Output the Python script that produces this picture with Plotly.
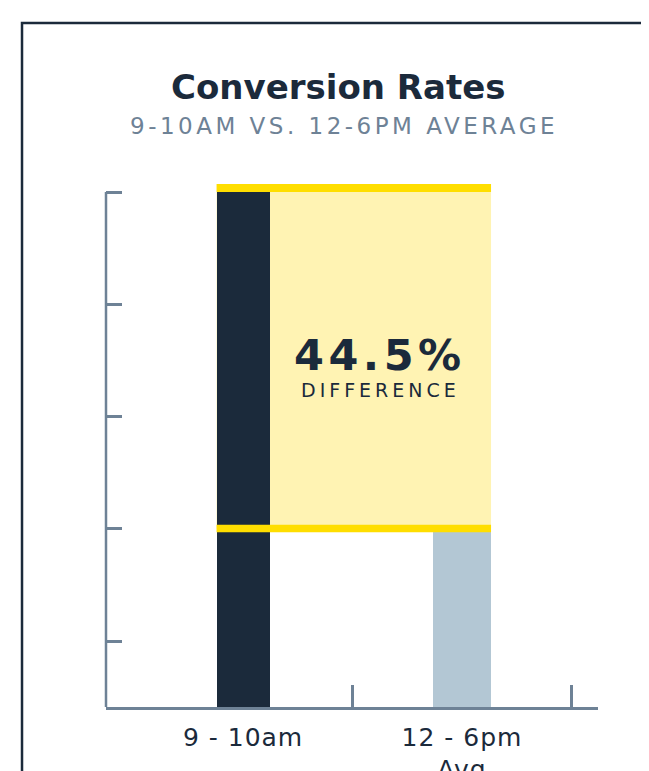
import plotly.graph_objects as go

# ---- data ----
categories = ["9 - 10am", "12 - 6pm<br>Avg"]
rates = [3.18, 2.20]          # conversion rate (relative scale, unlabelled axis)
bar_colors = ["#1b2a3b", "#b3c7d4"]
bar_widths = [0.242, 0.265]
diff_label = "44.5%"
diff_caption = "DIFFERENCE"
title_text = "Conversion Rates"
subtitle_text = "9-10AM VS. 12-6PM AVERAGE"

DARK = "#1b2a3b"
AXIS = "#6e8296"
YELLOW = "#ffde00"
PALE = "#fff3b3"
FONT = "DejaVu Sans"


def spaced(t, px):
    return "<br>".join(f'<span style="letter-spacing:{px}px">{p}</span>' for p in t.split("<br>"))


xpos = list(range(len(categories)))
hi, lo = max(rates), min(rates)
step = (hi - lo) / 3
y_min = lo - step * 1.588
y_max = hi + step * 0.072

fig = go.Figure()
fig.add_trace(go.Bar(
    x=xpos, y=rates, width=bar_widths,
    marker=dict(color=bar_colors, line=dict(width=0)),
    hoverinfo="skip", showlegend=False,
))

x_left = xpos[0] - bar_widths[0] / 2
x_right = xpos[1] + bar_widths[1] / 2
x_mid = (xpos[0] + bar_widths[0] / 2 + x_right) / 2

shapes = [
    dict(type="rect", xref="x", yref="y", x0=x_left, x1=x_right, y0=lo, y1=hi,
         fillcolor=PALE, line=dict(width=0), layer="below"),
    dict(type="rect", xref="x", yref="y", x0=x_left, x1=x_right, y0=hi, y1=y_max,
         fillcolor=YELLOW, line=dict(width=0), layer="above"),
    dict(type="rect", xref="x", yref="y", x0=x_left, x1=x_right, y0=lo - step * 0.03, y1=lo + step * 0.036,
         fillcolor=YELLOW, line=dict(width=0), layer="above"),
    # y-axis spine, ending at the top tick
    dict(type="line", xref="x domain", yref="y", x0=0, x1=0, y0=y_min, y1=hi,
         line=dict(color=AXIS, width=2.5), layer="above"),
    # card frame
    dict(type="rect", xref="paper", yref="paper", x0=-0.1707, x1=1.3, y0=-0.3, y1=1.3078,
         fillcolor="rgba(0,0,0,0)", line=dict(color=DARK, width=2.5), layer="below"),
]

annotations = [
    dict(text=f"<b>{title_text}</b>", xref="paper", yref="paper", x=0.4715, y=1.0,
         xanchor="center", yanchor="middle",
         yshift=97, showarrow=False, font=dict(family=FONT, size=34, color=DARK)),
    dict(text=spaced(subtitle_text, 3.5), xref="paper", yref="paper", x=0.484, y=1.0,
         xanchor="center", yanchor="middle",
         yshift=58, showarrow=False, font=dict(family=FONT, size=23, color=AXIS)),
    dict(text=spaced(diff_label, 4.5), xref="x", yref="y", x=x_mid,
         y=(hi + lo) / 2, yshift=5, showarrow=False, xanchor="center", yanchor="middle",
         font=dict(family=FONT, size=43, color=DARK, weight=600)),
    dict(text=spaced(diff_caption, 4), xref="x", yref="y", x=x_mid,
         y=(hi + lo) / 2, yshift=-30, showarrow=False, xanchor="center", yanchor="middle",
         font=dict(family=FONT, size=19, color=DARK)),
]

fig.update_layout(
    width=641, height=763,
    margin=dict(l=98, r=51, t=176, b=64, autoexpand=False),
    paper_bgcolor="white", plot_bgcolor="white",
    shapes=shapes, annotations=annotations,
    bargap=0,
    xaxis=dict(
        range=[-0.626, 1.621], showgrid=False, zeroline=False, automargin=False,
        showline=True, linecolor=AXIS, linewidth=2.5,
        tickmode="array", tickvals=xpos, ticktext=[spaced(c, 1) for c in categories],
        ticks="outside", ticklen=0, ticklabelstandoff=6,
        tickfont=dict(family=FONT, size=25, color=DARK),
        minor=dict(tickmode="array", tickvals=[0.5, 1.5], ticks="inside",
                   ticklen=22, tickwidth=2.5, tickcolor=AXIS, showgrid=False),
        fixedrange=True,
    ),
    yaxis=dict(
        range=[y_min, y_max],
        showgrid=False, zeroline=False, automargin=False,
        showline=False,
        tickmode="array", tickvals=[lo + step * k for k in range(-1, 4)],
        ticks="inside", ticklen=16, tickwidth=2.5, tickcolor=AXIS,
        showticklabels=False, fixedrange=True,
    ),
)

fig.write_html("out.html", config={"displayModeBar": False})
